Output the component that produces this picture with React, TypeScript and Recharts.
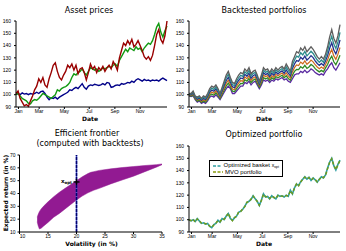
import React from 'react';
import {
  LineChart,
  Line,
  XAxis,
  YAxis,
  ComposedChart,
  Area,
  ReferenceLine,
  ReferenceDot,
  Legend,
} from 'recharts';

// ---------- shared categories / ticks ----------
const days = [
  0, 5, 10, 15, 20, 25, 30, 35, 40, 45, 50, 55, 60, 65, 70, 75, 80, 85, 90, 95,
  100, 105, 110, 115, 120, 125, 130, 135, 140, 145, 150, 155, 160, 165, 170, 175, 180, 185, 190, 195,
  200, 205, 210, 215, 220, 225, 230, 235, 240, 245, 250, 255, 260, 265, 270, 275, 280, 285, 290, 295,
  300, 305, 310, 315, 320, 325, 330, 335, 340, 345, 350, 355, 360, 365,
];
const monthTicks = [6, 56, 117, 177, 239, 300];
const monthLabels = ['Jan', 'Mar', 'May', 'Jul', 'Sep', 'Nov'];
const priceTicks = [90, 100, 110, 120, 130, 140, 150, 160];

// ---------- asset prices ----------
const assetRed = [
  101, 103, 97, 94, 91, 92, 90.5, 95, 99, 104,
  107, 113, 110, 114, 108, 106, 113, 118, 124, 126,
  119, 114, 112, 116, 119, 124, 122, 125, 120, 124,
  117, 121, 122, 118, 112, 118, 125, 121, 123, 118,
  122, 120, 123, 119, 122, 124, 121, 127, 124, 120,
  130, 136, 142, 140, 144, 141, 145, 139, 141, 144,
  140, 136, 131, 129, 131, 128, 132, 140, 149, 153,
  145, 142, 148, 160,
];
const assetGreen = [
  100, 101, 99, 97, 96, 95, 93, 92.5, 95, 96,
  95.5, 97, 99, 101, 100, 99, 98, 97, 98.5, 100,
  104, 103, 105, 106, 106.5, 108, 110, 114, 117, 116,
  118, 119, 121, 118, 116, 119, 122, 121, 120, 121,
  119, 120, 122, 121, 122, 123, 122, 124, 125, 123,
  128, 131, 134, 137, 135, 138, 137, 136, 139, 137,
  138, 135, 138, 140, 142, 141, 144, 149, 155, 158,
  151, 147, 152, 156,
];
const assetBlue = [
  100.5, 101, 100, 101.5, 100.5, 101, 100, 101, 100.5, 101,
  102, 101, 102.5, 103, 101, 98, 96, 97.5, 97, 98,
  96.5, 98, 99, 100, 101, 102, 104, 103.5, 105, 106,
  105, 107, 109, 106, 104.5, 107, 108, 107.5, 108.5, 108,
  107.5, 108, 109, 108, 110, 109.5, 106, 106.5, 107.5, 108,
  107.5, 109, 108.5, 109, 110, 109.5, 111, 110, 112, 113,
  112, 111, 112.5, 111.5, 112, 111, 112, 111.5, 112, 111,
  112.5, 113.5, 112.5, 111.5,
];

// ---------- backtested portfolios ----------
const btTop = [
  101, 101, 103, 99, 98, 99, 97, 99, 98, 101,
  105, 107, 106, 108, 105, 101, 106, 111, 116, 119,
  114, 110, 109, 113, 116, 118, 117, 121, 119, 122,
  117, 119, 120, 116, 111, 116, 122, 120, 121, 118,
  121, 119, 122, 120, 122, 123, 121, 125, 122, 119,
  127, 131, 135, 134, 138, 136, 139, 135, 137, 139,
  137, 134, 131, 129, 131, 129, 133, 139, 147, 153,
  146, 142, 148, 157,
];
const bt20 = [
  100.6, 100.5, 102.2, 98.4, 97.2, 98.2, 96.2, 98, 97, 99.8,
  103.6, 105.4, 104.4, 106.4, 103.6, 100, 104.6, 109.2, 113.8, 116.6,
  112.2, 108.2, 107.4, 111, 113.8, 115.8, 115, 118.8, 117, 119.8,
  115.2, 117.2, 118.2, 114.4, 109.8, 114.4, 120, 118.2, 119.2, 116.4,
  119.2, 117.4, 120.2, 118.4, 120.2, 121.2, 119.2, 122.6, 119.8, 117.2,
  124.2, 128, 131.4, 130.6, 134.2, 132.4, 135.2, 131.6, 133.4, 135.4,
  133.6, 130.8, 128.2, 126.4, 128.2, 126.4, 130.2, 135.4, 142.4, 147.6,
  141.2, 137.6, 143, 150.8,
];
const bt40 = [
  100.2, 100, 101.4, 97.8, 96.4, 97.4, 95.4, 97, 96, 98.6,
  102.2, 103.8, 102.8, 104.8, 102.2, 99, 103.2, 107.4, 111.6, 114.2,
  110.4, 106.4, 105.8, 109, 111.6, 113.6, 113, 116.6, 115, 117.6,
  113.4, 115.4, 116.4, 112.8, 108.6, 112.8, 118, 116.4, 117.4, 114.8,
  117.4, 115.8, 118.4, 116.8, 118.4, 119.4, 117.4, 120.2, 117.6, 115.4,
  121.4, 125, 127.8, 127.2, 130.4, 128.8, 131.4, 128.2, 129.8, 131.8,
  130.2, 127.6, 125.4, 123.8, 125.4, 123.8, 127.4, 131.8, 137.8, 142.2,
  136.4, 133.2, 138, 144.6,
];
const bt60 = [
  99.8, 99.5, 100.6, 97.2, 95.6, 96.6, 94.6, 96, 95, 97.4,
  100.8, 102.2, 101.2, 103.2, 100.8, 98, 101.8, 105.6, 109.4, 111.8,
  108.6, 104.6, 104.2, 107, 109.4, 111.4, 111, 114.4, 113, 115.4,
  111.6, 113.6, 114.6, 111.2, 107.4, 111.2, 116, 114.6, 115.6, 113.2,
  115.6, 114.2, 116.6, 115.2, 116.6, 117.6, 115.6, 117.8, 115.4, 113.6,
  118.6, 122, 124.2, 123.8, 126.6, 125.2, 127.6, 124.8, 126.2, 128.2,
  126.8, 124.4, 122.6, 121.2, 122.6, 121.2, 124.6, 128.2, 133.2, 136.8,
  131.6, 128.8, 133, 138.4,
];
const bt80 = [
  99.4, 99, 99.8, 96.6, 94.8, 95.8, 93.8, 95, 94, 96.2,
  99.4, 100.6, 99.6, 101.6, 99.4, 97, 100.4, 103.8, 107.2, 109.4,
  106.8, 102.8, 102.6, 105, 107.2, 109.2, 109, 112.2, 111, 113.2,
  109.8, 111.8, 112.8, 109.6, 106.2, 109.6, 114, 112.8, 113.8, 111.6,
  113.8, 112.6, 114.8, 113.6, 114.8, 115.8, 113.8, 115.4, 113.2, 111.8,
  115.8, 119, 120.6, 120.4, 122.8, 121.6, 123.8, 121.4, 122.6, 124.6,
  123.4, 121.2, 119.8, 118.6, 119.8, 118.6, 121.8, 124.6, 128.6, 131.4,
  126.8, 124.4, 128, 132.2,
];
const btBottom = [
  99, 98.5, 99, 96, 94, 95, 93, 94, 93, 95,
  98, 99, 98, 100, 98, 96, 99, 102, 105, 107,
  105, 101, 101, 103, 105, 107, 107, 110, 109, 111,
  108, 110, 111, 108, 105, 108, 112, 111, 112, 110,
  112, 111, 113, 112, 113, 114, 112, 113, 111, 110,
  113, 116, 117, 117, 119, 118, 120, 118, 119, 121,
  120, 118, 117, 116, 117, 116, 119, 121, 124, 126,
  122, 120, 123, 126,
];

// ---------- efficient frontier ----------
const vols = [13.1, 13.3, 13.5, 13.8, 14.2, 15, 16, 17, 18, 19, 20, 21, 22, 22.5, 23, 24, 26, 28, 30, 32, 34, 35];
const retLow = [18, 14.5, 12.3, 13, 14.5, 17.5, 21.5, 24.5, 28, 31.5, 35, 38, 40.5, 41.5, 42.5, 44, 47.5, 50.5, 53.5, 57, 60.5, 62.5];
const retHigh = [21.5, 24, 26, 28, 30, 33.5, 37.5, 41, 44, 47, 50, 53, 55.5, 56.5, 57, 58, 59.2, 60.2, 61, 61.8, 62.5, 63];
const volTicks = [10, 15, 20, 25, 30, 35];
const retTicks = [10, 20, 30, 40, 50, 60, 70];
const optVol = 20;
const optRet = 49;

// ---------- optimized portfolio ----------
const optBasket = [
  100, 99, 100, 98.5, 101, 99, 97, 97.5, 96.5, 97,
  94.5, 93.5, 96, 97, 99.5, 98, 101, 100, 103, 105,
  101, 99.5, 101.5, 103, 106, 107, 108.5, 111, 114, 115,
  116.5, 119.5, 117, 115, 111.5, 116, 121, 118.5, 119, 117,
  119.5, 118, 117, 120, 119, 119.5, 118.5, 120, 119, 124,
  121, 126, 129, 128, 131, 133, 135, 133, 134.5, 132,
  134, 132.5, 130.5, 133, 135, 134, 136.5, 142, 147, 150,
  144, 140.5, 145, 148.5,
];
const mvoPortfolio = [
  100, 99.3, 100.4, 98.2, 100.6, 99.2, 97.3, 97.2, 96.8, 96.6,
  94.8, 93.8, 95.7, 97.3, 99.1, 98.3, 100.6, 100.4, 102.6, 105.3,
  101.4, 99.2, 101.8, 102.7, 106.3, 106.7, 108.8, 110.6, 114.3, 114.7,
  116.8, 119.2, 117.3, 114.7, 111.8, 115.7, 120.6, 118.8, 118.7, 117.3,
  119.2, 118.3, 117.3, 119.6, 119.3, 119.2, 118.8, 119.7, 119.3, 123.6,
  121.3, 125.7, 129.3, 127.7, 130.6, 133.3, 134.6, 133.3, 134.2, 132.3,
  133.7, 132.8, 130.8, 132.7, 134.7, 134.3, 136.2, 141.6, 146.7, 149.6,
  144.3, 140.8, 144.7, 148.2,
];

// ---------- tables ----------
const assetRows = days.map((d, i) => ({ d, red: assetRed[i], green: assetGreen[i], blue: assetBlue[i] }));
const btRows = days.map((d, i) => ({
  d,
  top: btTop[i],
  p20: bt20[i],
  p40: bt40[i],
  p60: bt60[i],
  p80: bt80[i],
  bottom: btBottom[i],
  dense: [bt40[i], btTop[i]],
}));
const frontierRows = vols.map((v, i) => ({ v, band: [retLow[i], retHigh[i]] }));
const optRows = days.map((d, i) => ({ d, opt: optBasket[i], mvo: mvoPortfolio[i] }));

// ---------- styles ----------
const tickFont = { fontSize: 5, fill: '#000', fontFamily: '"Liberation Sans", Arial, sans-serif' };
const axisStroke = { stroke: '#000', strokeWidth: 1 };
const fmtMonth = (v: number) => monthLabels[monthTicks.indexOf(v)] ?? '';
const titleFont = { fontFamily: '"DejaVu Sans", sans-serif', fontSize: 8, fill: '#000' };
const labelFont = { fontFamily: '"DejaVu Sans", sans-serif', fontSize: 6, fontWeight: 'bold' as const, fill: '#000' };

const VolTick = (props: any) => {
  const { x, y, payload } = props;
  const dx = payload.value === 10 ? 3 : 0;
  return (
    <text x={x + dx} y={y} dy="0.71em" textAnchor="middle" {...tickFont}>
      {payload.value}
    </text>
  );
};

const OptMarker = (props: any) => {
  const { cx, cy } = props;
  if (cx == null || cy == null) return null;
  return (
    <g>
      <line x1={cx - 3} y1={cy} x2={cx + 3} y2={cy} stroke="#000" strokeWidth={1.4} />
      <line x1={cx} y1={cy - 3} x2={cx} y2={cy + 3} stroke="#000" strokeWidth={1.4} />
      <text x={cx - 4.5} y={cy + 1} textAnchor="end" fontFamily='"DejaVu Sans", sans-serif' fontSize={5.5} fontWeight="bold" fill="#000">
        x<tspan fontSize={4} dy={1}>opt</tspan>
      </text>
    </g>
  );
};

const swatch = (color: string) => (
  <svg width={10} height={4} style={{ display: 'block' }}>
    <line x1={0} y1={2} x2={10} y2={2} stroke={color} strokeWidth={1.5} strokeDasharray="3 1.5" />
  </svg>
);

const renderLegend = () => (
  <div
    style={{
      border: '1px solid #000',
      background: '#fff',
      boxSizing: 'border-box',
      width: 74,
      height: 17,
      padding: '1.5px 3px',
      fontFamily: '"Liberation Sans", Arial, sans-serif',
      fontSize: 6,
      lineHeight: '6.5px',
      color: '#000',
    }}
  >
    <div style={{ display: 'flex', alignItems: 'center', height: 6.5 }}>
      {swatch('#2f9fa3')}
      <span style={{ marginLeft: 2, whiteSpace: 'nowrap' }}>
        Optimized basket{' '}
        <span style={{ fontSize: 5 }}>
          x<sub style={{ fontSize: 3.5, verticalAlign: '-1px' }}>opt</sub>
        </span>
      </span>
    </div>
    <div style={{ display: 'flex', alignItems: 'center', height: 6.5 }}>
      {swatch('#8a9c10')}
      <span style={{ marginLeft: 2, whiteSpace: 'nowrap' }}>MVO portfolio</span>
    </div>
  </div>
);

export default function App() {
  return (
    <div style={{ position: 'absolute', left: 0, top: 0, width: 346, height: 251, background: '#fff', overflow: 'hidden' }}>
      {/* Panel 1: Asset prices */}
      <div style={{ position: 'absolute', left: 0, top: 0 }}>
        <LineChart width={173} height={125} data={assetRows} margin={{ top: 21, right: 6, bottom: 0, left: 0 }}>
          <XAxis dataKey="d" type="number" domain={[0, 365]} ticks={monthTicks} tickFormatter={fmtMonth} interval={0}
            height={18} tickSize={2} tickMargin={0} tick={tickFont} axisLine={axisStroke} tickLine={axisStroke} />
          <YAxis type="number" domain={[90, 160]} ticks={priceTicks} interval={0} width={16} tickSize={2} tickMargin={3}
            tick={tickFont} axisLine={axisStroke} tickLine={axisStroke} />
          <Line dataKey="blue" stroke="#000088" strokeWidth={1.4} dot={false} isAnimationActive={false} />
          <Line dataKey="green" stroke="#129a12" strokeWidth={1.4} dot={false} isAnimationActive={false} />
          <Line dataKey="red" stroke="#990000" strokeWidth={1.4} dot={false} isAnimationActive={false} />
        </LineChart>
      </div>

      {/* Panel 2: Backtested portfolios */}
      <div style={{ position: 'absolute', left: 173, top: 0 }}>
        <LineChart width={173} height={125} data={btRows} margin={{ top: 21, right: 6, bottom: 0, left: 0 }}>
          <XAxis dataKey="d" type="number" domain={[0, 365]} ticks={monthTicks} tickFormatter={fmtMonth} interval={0}
            height={18} tickSize={2} tickMargin={0} tick={tickFont} axisLine={axisStroke} tickLine={axisStroke} />
          <YAxis type="number" domain={[90, 160]} ticks={priceTicks} interval={0} width={16} tickSize={2} tickMargin={3}
            tick={tickFont} axisLine={axisStroke} tickLine={axisStroke} />
          <Area dataKey="dense" type="linear" stroke="none" fill="#2c4258" fillOpacity={0.9} isAnimationActive={false} />
          <Line dataKey="bottom" stroke="#5a2aa0" strokeWidth={1.3} dot={false} isAnimationActive={false} />
          <Line dataKey="p80" stroke="#2f8a22" strokeWidth={1.3} dot={false} isAnimationActive={false} />
          <Line dataKey="p60" stroke="#cc6a1c" strokeWidth={1.2} dot={false} isAnimationActive={false} />
          <Line dataKey="p40" stroke="#24308c" strokeWidth={1.3} dot={false} isAnimationActive={false} />
          <Line dataKey="p20" stroke="#2c8c8c" strokeWidth={1.3} dot={false} isAnimationActive={false} />
          <Line dataKey="top" stroke="#5e5e5e" strokeWidth={1.3} dot={false} isAnimationActive={false} />
        </LineChart>
      </div>

      {/* Panel 3: Efficient frontier */}
      <div style={{ position: 'absolute', left: 0, top: 125 }}>
        <ComposedChart width={173} height={126} data={frontierRows} margin={{ top: 30, right: 11, bottom: 0, left: 0 }}>
          <XAxis dataKey="v" type="number" domain={[10, 35]} ticks={volTicks} interval={0} height={19} tickSize={2}
            tickMargin={0} tick={<VolTick />} axisLine={axisStroke} tickLine={axisStroke} />
          <YAxis type="number" domain={[10, 70]} ticks={retTicks} interval={0} width={19.5} tickSize={2} tickMargin={2}
            tick={tickFont} axisLine={axisStroke} tickLine={axisStroke} />
          <Area dataKey="band" type="linear" stroke="#921a92" strokeWidth={0.5} fill="#921a92" fillOpacity={1} isAnimationActive={false} />
          <ReferenceLine x={optVol} stroke="#4455cc" strokeWidth={1.5} />
          <ReferenceLine x={optVol} stroke="#00006e" strokeWidth={1.5} strokeDasharray="3 1" />
          <ReferenceDot x={optVol} y={optRet} r={3} shape={(p: any) => <OptMarker {...p} />} />
        </ComposedChart>
      </div>

      {/* Panel 4: Optimized portfolio */}
      <div style={{ position: 'absolute', left: 173, top: 125 }}>
        <LineChart width={173} height={126} data={optRows} margin={{ top: 21, right: 6, bottom: 0, left: 0 }}>
          <XAxis dataKey="d" type="number" domain={[0, 365]} ticks={monthTicks} tickFormatter={fmtMonth} interval={0}
            height={19} tickSize={2} tickMargin={0} tick={tickFont} axisLine={axisStroke} tickLine={axisStroke} />
          <YAxis type="number" domain={[90, 160]} ticks={priceTicks} interval={0} width={16} tickSize={2} tickMargin={3}
            tick={tickFont} axisLine={axisStroke} tickLine={axisStroke} />
          <Legend layout="vertical" align="center" verticalAlign="middle" content={renderLegend}
            wrapperStyle={{ left: 36, top: 35, width: 74, height: 17 }} />
          <Line dataKey="opt" name="Optimized basket" stroke="#2f9fa3" strokeWidth={1.6} dot={false} isAnimationActive={false} />
          <Line dataKey="mvo" name="MVO portfolio" stroke="#6f9a1a" strokeWidth={1.5} strokeDasharray="3 2" dot={false} isAnimationActive={false} />
        </LineChart>
      </div>

      {/* Titles and axis labels */}
      <svg width={346} height={251} style={{ position: 'absolute', left: 0, top: 0, pointerEvents: 'none' }}>
        <text x={89} y={13} textAnchor="middle" {...titleFont}>Asset prices</text>
        <text x={264} y={13} textAnchor="middle" {...titleFont}>Backtested portfolios</text>
        <text x={87} y={136.3} textAnchor="middle" {...titleFont}>Efficient frontier</text>
        <text x={90} y={146.3} textAnchor="middle" {...titleFont}>(computed with backtests)</text>
        <text x={264} y={137.3} textAnchor="middle" {...titleFont}>Optimized portfolio</text>
        <text x={90} y={121} textAnchor="middle" {...labelFont}>Date</text>
        <text x={264} y={121} textAnchor="middle" {...labelFont}>Date</text>
        <text x={264} y={245.5} textAnchor="middle" {...labelFont}>Date</text>
        <text x={91.5} y={245.5} textAnchor="middle" {...labelFont}>Volatility (in %)</text>
        <text x={8} y={193} textAnchor="middle" transform="rotate(-90 8 193)" {...labelFont}>Expected return (in %)</text>
      </svg>
    </div>
  );
}
